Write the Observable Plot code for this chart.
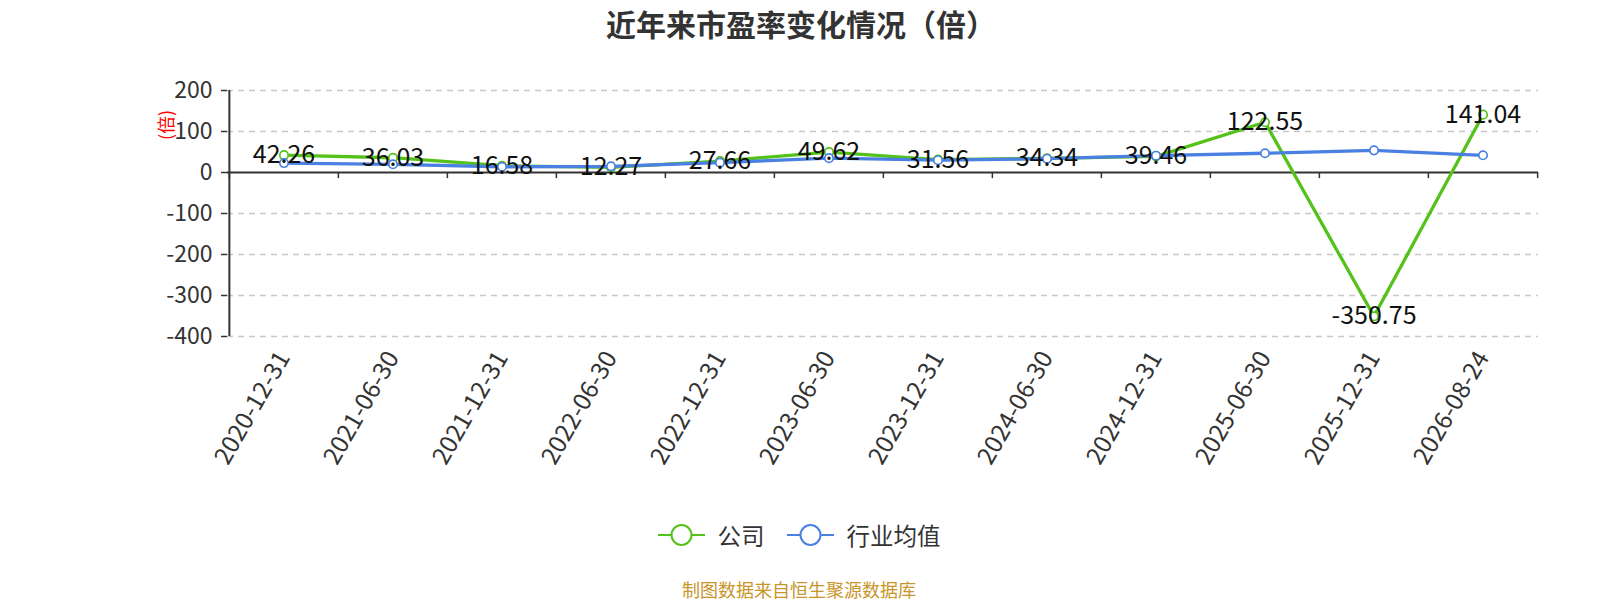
<!DOCTYPE html>
<html><head><meta charset="utf-8">
<script src="https://cdn.jsdelivr.net/npm/d3@7"></script>
<script src="https://cdn.jsdelivr.net/npm/@observablehq/plot@0.6"></script>
<style>
body{margin:0;background:#fff;font-family:"Noto Sans CJK SC","Noto Sans",sans-serif;width:1600px;height:600px;position:relative;overflow:hidden}
#title{position:absolute;top:1px;left:0;width:1602px;text-align:center;font-size:30px;font-weight:bold;color:#333;z-index:2}
#chart{position:absolute;top:50px;left:0;z-index:1}
#ylab{position:absolute;left:150px;top:112px;color:#f00;font-size:18px;transform:rotate(-90deg);transform-origin:center;z-index:3}
#legend{position:absolute;top:518px;left:0;width:1598px;display:flex;justify-content:center;align-items:center;font-size:23.5px;color:#333;z-index:2}
#legend .item{display:flex;align-items:center;margin:0 11px}
#legend svg{margin-right:13px}
#caption{position:absolute;top:576px;left:0;width:1598px;text-align:center;font-size:18px;color:#c8952a;z-index:2}
</style></head>
<body>
<div id="title">近年来市盈率变化情况（倍）</div>
<div id="ylab">(倍)</div>
<div id="chart"></div>
<div id="legend"></div>
<div id="caption">制图数据来自恒生聚源数据库</div>
<script>
const categories = ["2020-12-31","2021-06-30","2021-12-31","2022-06-30","2022-12-31","2023-06-30","2023-12-31","2024-06-30","2024-12-31","2025-06-30","2025-12-31","2026-08-24"];
const companyValues = [42.26, 36.03, 16.58, 12.27, 27.66, 49.62, 31.56, 34.34, 39.46, 122.55, -350.75, 141.04];
const industryValues = [23, 20, 14, 15, 24, 35, 30, 33.6, 41, 47, 54, 42];
const yTicks = [200, 100, 0, -100, -200, -300, -400];
const seriesNames = ["公司", "行业均值"];
const seriesColors = ["#55c21b", "#4b80e3"];

const company = categories.map((d, i) => ({date: d, value: companyValues[i]}));
const industry = categories.map((d, i) => ({date: d, value: industryValues[i]}));

const width = 1600, marginLeft = 227, marginRight = 62;
const bw = (width - marginLeft - marginRight) / categories.length;

const chart = Plot.plot({
  width,
  height: 450,
  marginLeft,
  marginRight,
  marginTop: 40,
  marginBottom: 164,
  style: {fontFamily: '"Noto Sans CJK SC","Noto Sans",sans-serif', background: "#fff"},
  x: {type: "band", domain: categories, padding: 0, label: null},
  y: {domain: [-400, 200], label: null},
  marks: [
    Plot.ruleY(yTicks.filter(d => d !== 0), {stroke: "#c8c8c8", strokeWidth: 1.3, strokeDasharray: "6,5"}),
    Plot.axisY({ticks: yTicks, tickSize: 6, tickPadding: 9, fontSize: 23, fill: "#333", stroke: "#333", strokeWidth: 1.5, label: null, tickFormat: d => String(d)}),
    Plot.axisX({anchor: "bottom", tickSize: 0, tickPadding: 17, tickRotate: -60, fontSize: 24.5, fill: "#333", label: null}),
    Plot.ruleX([categories[0]], {dx: -bw / 2, y1: -400, y2: 200, stroke: "#333", strokeWidth: 2}),
    Plot.ruleY([0], {stroke: "#333", strokeWidth: 2}),
    Plot.ruleX(categories, {x: d => d, dx: -bw / 2, y1: 0, y2: -15, stroke: "#333", strokeWidth: 1.5}),
    Plot.ruleX([categories[categories.length - 1]], {dx: bw / 2, y1: 0, y2: -15, stroke: "#333", strokeWidth: 1.5}),
    Plot.line(company, {x: "date", y: "value", stroke: seriesColors[0], strokeWidth: 3.3}),
    Plot.dot(company, {x: "date", y: "value", r: 4.2, fill: "#fff", stroke: seriesColors[0], strokeWidth: 1.7}),
    Plot.line(industry, {x: "date", y: "value", stroke: seriesColors[1], strokeWidth: 3.3}),
    Plot.dot(industry, {x: "date", y: "value", r: 4.2, fill: "#fff", stroke: seriesColors[1], strokeWidth: 1.7}),
    Plot.text(company, {x: "date", y: "value", text: d => d.value.toFixed(2), fontSize: 25, fill: "#111", dy: 0})
  ]
});
document.getElementById("chart").appendChild(chart);

const legend = document.getElementById("legend");
seriesNames.forEach((name, i) => {
  const item = document.createElement("div");
  item.className = "item";
  item.innerHTML = `<svg width="47" height="26"><line x1="0" y1="13" x2="47" y2="13" stroke="${seriesColors[i]}" stroke-width="2"/><circle cx="23.5" cy="13" r="10" fill="#fff" stroke="${seriesColors[i]}" stroke-width="2"/></svg><span>${name}</span>`;
  legend.appendChild(item);
});
</script>
</body></html>
